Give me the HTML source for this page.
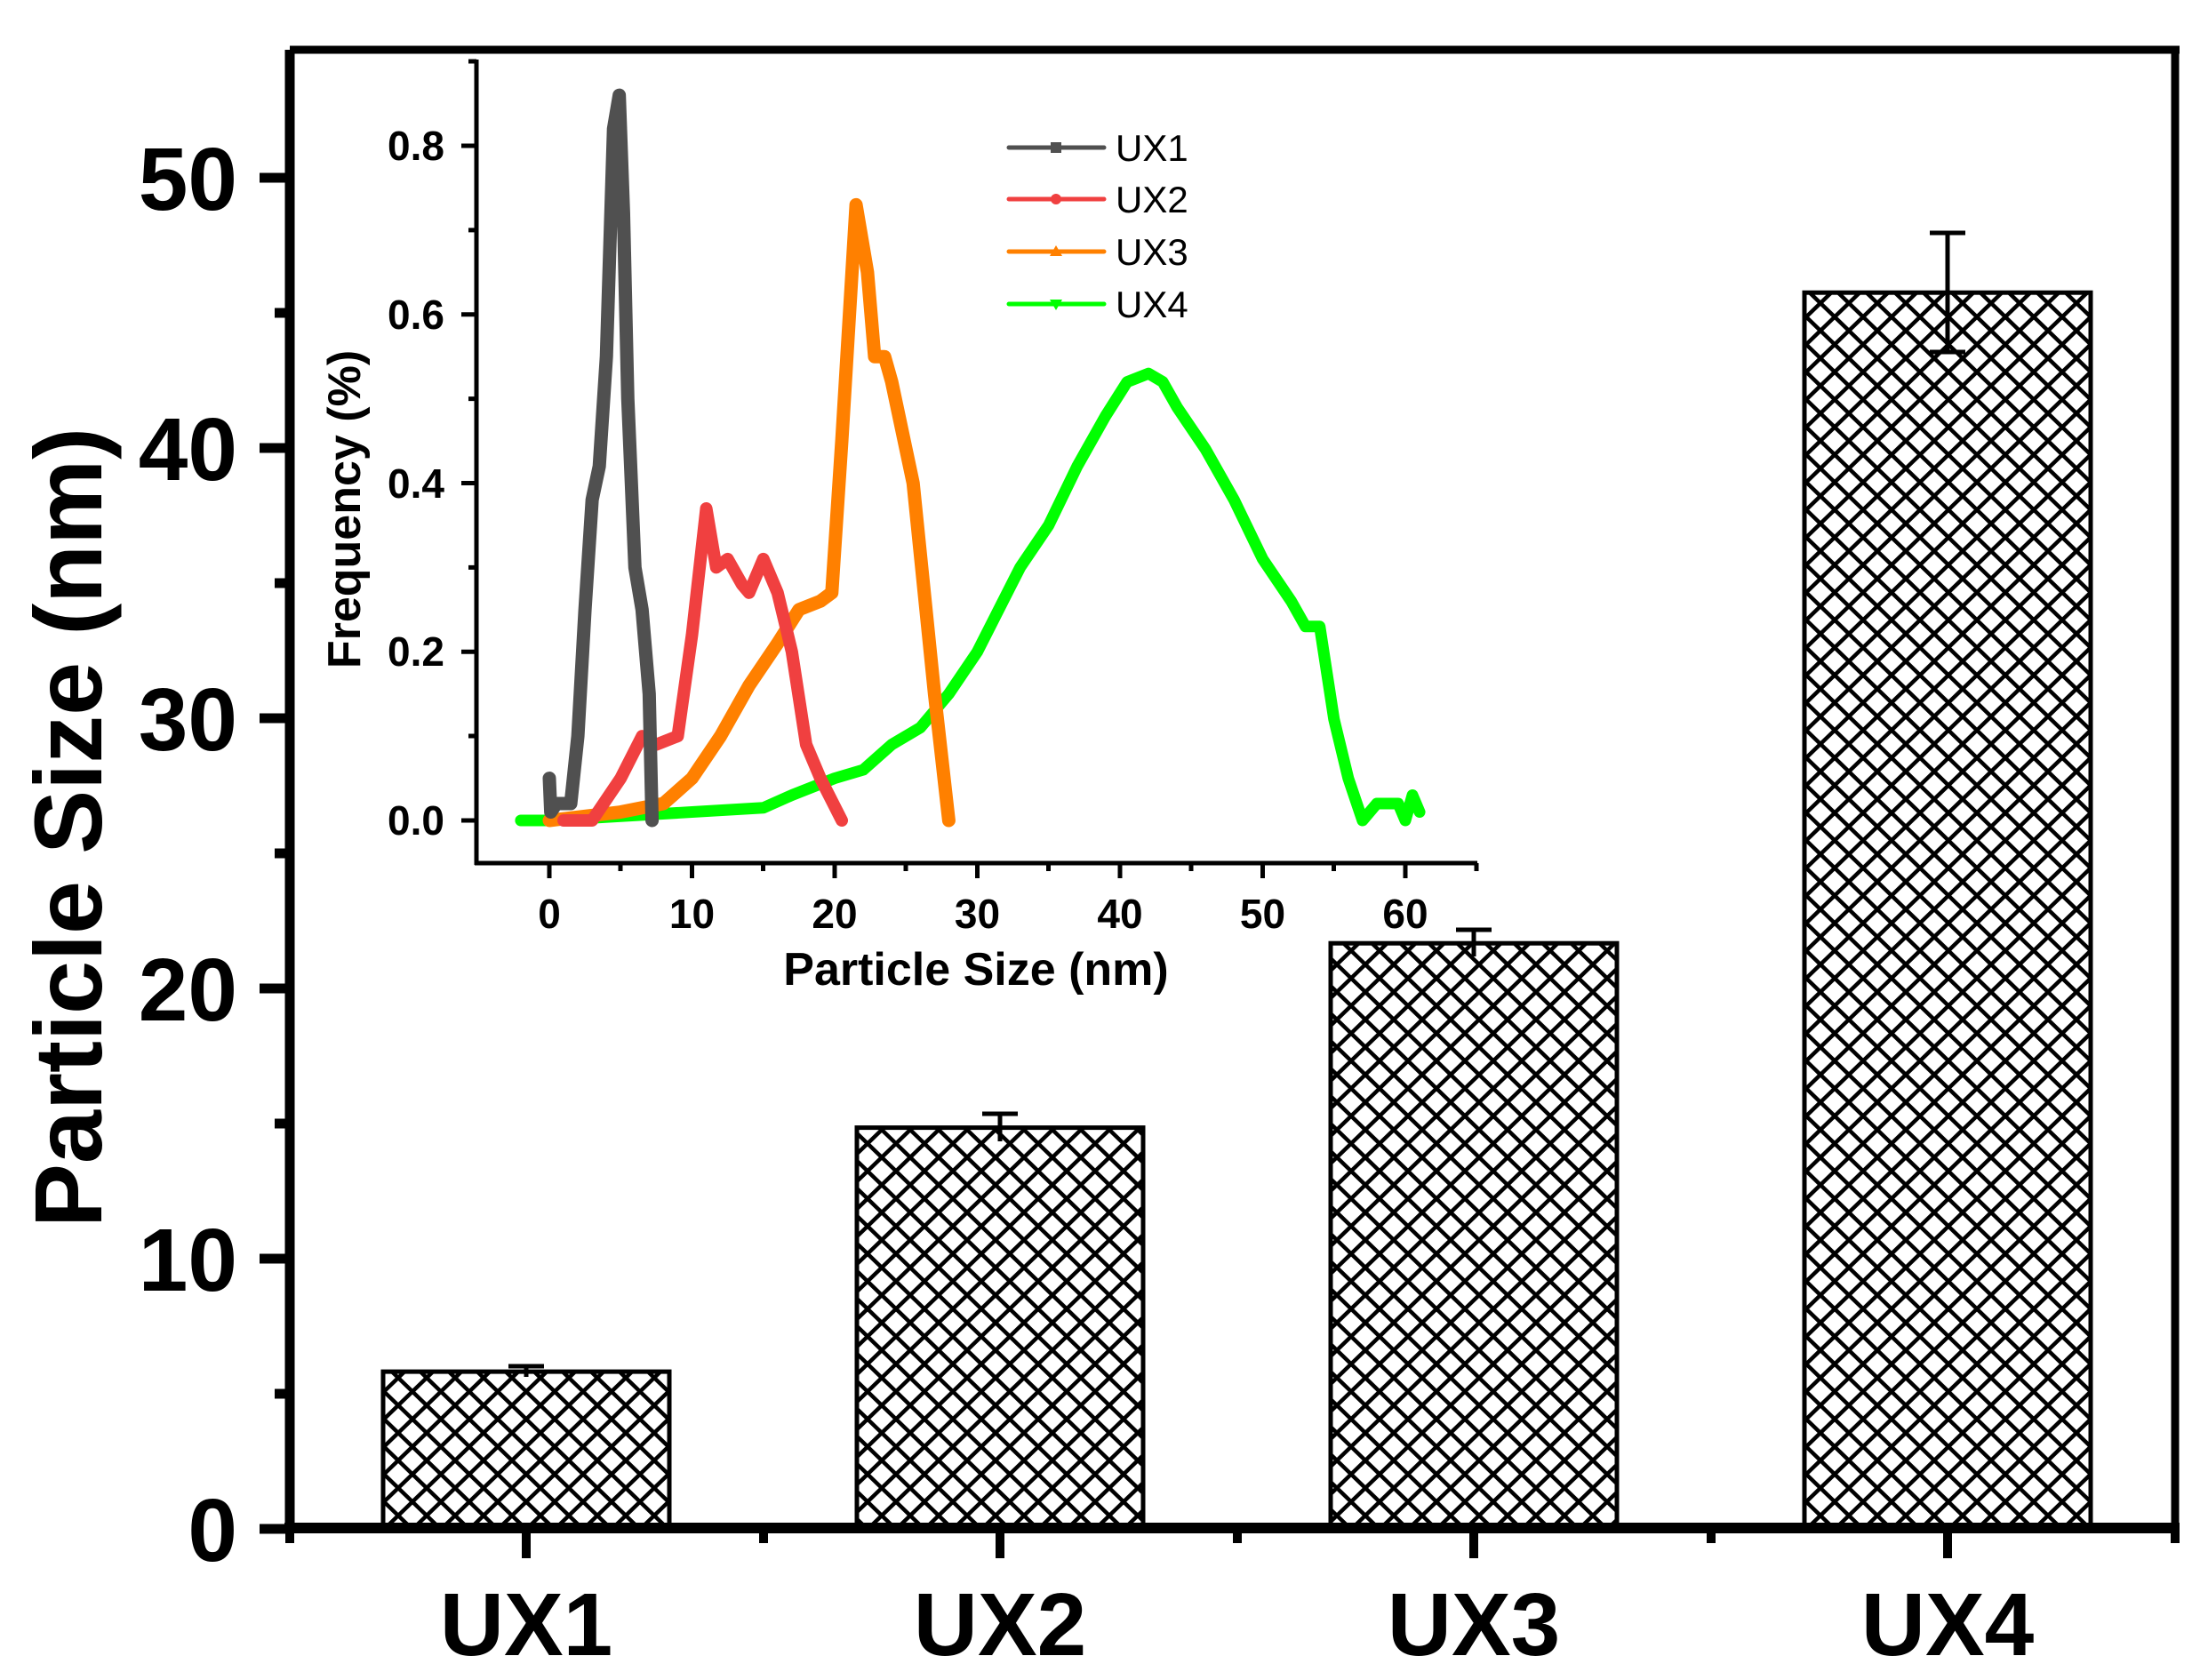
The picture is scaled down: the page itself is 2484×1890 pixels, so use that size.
<!DOCTYPE html>
<html><head><meta charset="utf-8"><style>
html,body{margin:0;padding:0;background:#fff}
svg{display:block}
text{font-family:"Liberation Sans",Arial,sans-serif}
</style></head><body>
<svg width="2484" height="1890" viewBox="0 0 2484 1890" xmlns="http://www.w3.org/2000/svg">
<defs>
<pattern id="hatch" patternUnits="userSpaceOnUse" width="32" height="31">
<path d="M-8,-7.75 L40,38.75 M40,-7.75 L-8,38.75" stroke="#000" stroke-width="4.5" fill="none"/>
</pattern>
</defs>
<rect width="2484" height="1890" fill="#fff"/>

<g stroke="#000" stroke-width="5" fill="url(#hatch)">
<rect x="431" y="1543.1" width="322" height="176.9"/>
<rect x="964" y="1268.6" width="322" height="451.4"/>
<rect x="1497" y="1061.2" width="322" height="658.8"/>
<rect x="2030" y="329.2" width="322" height="1390.8"/>
</g>
<g stroke="#000" stroke-width="5" fill="none">
<path d="M592,1537 V1549 M572,1537 H612"/>
<path d="M1125,1253 V1284 M1105,1253 H1145"/>
<path d="M1658,1046 V1076 M1638,1046 H1678"/>
<path d="M2191,262 V396 M2171,262 H2211 M2171,396 H2211"/>
</g>

<g stroke="#000" fill="none">
<path d="M326,56 V1720" stroke-width="11"/>
<path d="M320,1719 H2452" stroke-width="12"/>
<path d="M326,56 H2452 M2447,56 V1720" stroke-width="9"/>
</g>
<g stroke="#000" stroke-width="11">
<path d="M292,1720 H326 M292,1416 H326 M292,1112 H326 M292,808 H326 M292,504 H326 M292,200 H326"/>
<path d="M309,1568 H326 M309,1264 H326 M309,960 H326 M309,656 H326 M309,352 H326"/>
</g>
<g stroke="#000" stroke-width="10">
<path d="M592,1719 V1753 M1125,1719 V1753 M1658,1719 V1753 M2191,1719 V1753"/>
<path d="M326,1719 V1736 M859,1719 V1736 M1392,1719 V1736 M1925,1719 V1736 M2447,1719 V1736"/>
</g>
<g font-weight="bold" font-size="100" text-anchor="end" fill="#000">
<text x="267" y="1756">0</text>
<text x="267" y="1452">10</text>
<text x="267" y="1148">20</text>
<text x="267" y="844">30</text>
<text x="267" y="540">40</text>
<text x="267" y="236">50</text>
</g>
<g font-weight="bold" font-size="100" text-anchor="middle" fill="#000">
<text x="592" y="1862">UX1</text>
<text x="1125" y="1862">UX2</text>
<text x="1658" y="1862">UX3</text>
<text x="2191" y="1862">UX4</text>
</g>
<text transform="translate(114,931) rotate(-90)" font-weight="bold" font-size="108" text-anchor="middle">Particle Size (nm)</text>

<g stroke="#000" fill="none" stroke-width="5">
<path d="M536,67 V973 M534,971 H1662"/>
<path d="M618,971 V988 M778.5,971 V988 M939,971 V988 M1099.5,971 V988 M1260,971 V988 M1420.5,971 V988 M1581,971 V988"/>
<path d="M698,971 V980 M858.5,971 V980 M1019,971 V980 M1179.5,971 V980 M1340,971 V980 M1500.5,971 V980 M1661,971 V980"/>
<path d="M519,923 H536 M519,733.3 H536 M519,543.5 H536 M519,353.8 H536 M519,164 H536"/>
<path d="M527,828 H536 M527,638.4 H536 M527,448.6 H536 M527,258.9 H536 M527,69 H536"/>
</g>
<g font-weight="bold" font-size="46" text-anchor="end">
<text x="500" y="939">0.0</text>
<text x="500" y="749">0.2</text>
<text x="500" y="560">0.4</text>
<text x="500" y="370">0.6</text>
<text x="500" y="180">0.8</text>
</g>
<g font-weight="bold" font-size="46" text-anchor="middle">
<text x="618" y="1044">0</text>
<text x="778.5" y="1044">10</text>
<text x="939" y="1044">20</text>
<text x="1099.5" y="1044">30</text>
<text x="1260" y="1044">40</text>
<text x="1420.5" y="1044">50</text>
<text x="1581" y="1044">60</text>
</g>
<text x="1098" y="1108" font-weight="bold" font-size="52" text-anchor="middle">Particle Size (nm)</text>
<text transform="translate(405,573) rotate(-90)" font-weight="bold" font-size="52" text-anchor="middle">Frequency (%)</text>

<g transform="translate(618,923) scale(16.05,-948.75)" fill="none" stroke-linejoin="round" stroke-linecap="round">
<polyline vector-effect="non-scaling-stroke" stroke="#00ff00" stroke-width="13" points="-2,0 0,0 5,0.005 10,0.01 15,0.015 17,0.03 20,0.05 22,0.06 24,0.09 26,0.11 28,0.15 30,0.2 33,0.3 35,0.35 37,0.42 39,0.48 40.5,0.52 42,0.53 43,0.52 44,0.49 46,0.44 48,0.38 50,0.31 52,0.26 53,0.23 54,0.23 55,0.12 56,0.05 57,0.0 58,0.02 59.5,0.02 60,0.0 60.5,0.03 61,0.01"/>
<polyline vector-effect="non-scaling-stroke" stroke="#ff8000" stroke-width="15" points="0,0 5,0.01 8,0.02 10,0.05 12,0.1 14,0.16 16,0.21 17.5,0.25 19,0.26 19.8,0.27 20.5,0.45 21.5,0.73 22.3,0.65 22.8,0.55 23.5,0.55 24,0.52 25.5,0.4 27,0.15 28,0"/>
<polyline vector-effect="non-scaling-stroke" stroke="#f04040" stroke-width="14" points="1,0 3,0 5,0.05 6.5,0.1 7.5,0.09 9,0.1 10,0.22 11,0.37 11.7,0.3 12.5,0.31 13.5,0.28 14,0.27 15,0.31 16,0.27 17,0.2 18,0.09 19,0.05 20.5,0"/>
<polyline vector-effect="non-scaling-stroke" stroke="#505050" stroke-width="15" points="0,0.05 0.1,0.01 0.5,0.02 1.5,0.02 2,0.1 2.5,0.25 3,0.38 3.5,0.42 4,0.55 4.5,0.82 4.9,0.86 5.2,0.72 5.5,0.5 6,0.3 6.5,0.25 7,0.15 7.2,0"/>
</g>

<g stroke-width="5" stroke-linecap="round">
<path d="M1135,166 H1242" stroke="#505050"/>
<rect x="1182" y="160" width="12" height="12" fill="#505050"/>
<path d="M1135,224 H1242" stroke="#f04040"/>
<circle cx="1188" cy="224" r="6" fill="#f04040"/>
<path d="M1135,283 H1242" stroke="#ff8000"/>
<path d="M1181,288 L1188,276 L1195,288 Z" fill="#ff8000"/>
<path d="M1135,342 H1242" stroke="#00ff00"/>
<path d="M1181,337 L1188,349 L1195,337 Z" fill="#00ff00"/>
</g>
<g font-size="42">
<text x="1255" y="181">UX1</text>
<text x="1255" y="239">UX2</text>
<text x="1255" y="298">UX3</text>
<text x="1255" y="357">UX4</text>
</g>
</svg>
</body></html>
